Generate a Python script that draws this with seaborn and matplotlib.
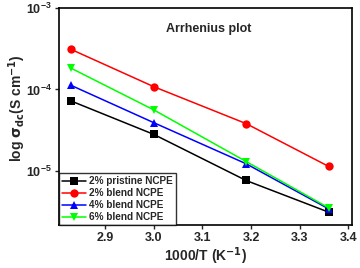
import pandas as pd
import matplotlib
matplotlib.use("Agg")
import matplotlib.pyplot as plt
import seaborn as sns

# Data
inv_T = [2.83, 3.00, 3.19, 3.36]
pristine_2 = [7.2e-5, 2.8e-5, 7.6e-6, 3.1e-6]
blend_2 = [3.1e-4, 1.08e-4, 3.8e-5, 1.13e-5]
blend_4 = [1.12e-4, 3.9e-5, 1.22e-5, 3.4e-6]
blend_6 = [1.82e-4, 5.6e-5, 1.3e-5, 3.5e-6]

labels = ["2% pristine NCPE", "2% blend NCPE", "4% blend NCPE", "6% blend NCPE"]
colors = ["black", "red", "blue", "#00ff00"]
markers = ["s", "o", "^", "v"]

df = pd.DataFrame({
    "x": inv_T * 4,
    "y": pristine_2 + blend_2 + blend_4 + blend_6,
    "sample": [l for l in labels for _ in inv_T],
})

sns.set_style("ticks")
plt.rcParams["font.family"] = ["Liberation Sans", "DejaVu Sans"]
plt.rcParams["font.weight"] = "bold"
plt.rcParams["mathtext.default"] = "bf"

fig = plt.figure(figsize=(3.6, 2.68), dpi=100)
ax = fig.add_axes([0.164, 0.160, 0.814, 0.810])

sns.lineplot(data=df, x="x", y="y", hue="sample", style="sample",
             palette=dict(zip(labels, colors)), markers=dict(zip(labels, markers)),
             dashes=False, markersize=6, markeredgewidth=0, linewidth=1.1, ax=ax)

ax.set_yscale("log")
ax.set_ylim(2.15e-6, 1e-3)
ax.set_xlim(2.805, 3.408)
ax.set_xticks([2.9, 3.0, 3.1, 3.2, 3.3, 3.4])
ax.set_yticks([1e-5, 1e-4, 1e-3])
ax.yaxis.set_minor_locator(matplotlib.ticker.NullLocator())

for s in ax.spines.values():
    s.set_visible(True)
    s.set_linewidth(1.2)
    s.set_color("black")
ax.tick_params(labelsize=9, width=1, length=3, direction="out", pad=2)
for t in ax.get_xticklabels() + ax.get_yticklabels():
    t.set_fontweight("bold")

ax.set_xlabel("1000/T (K$^{-1}$)", fontsize=10, fontweight="bold", labelpad=1)
ax.set_ylabel(r"log $\mathbf{\sigma_{dc}}$(S cm$^{\mathbf{-1}}$)", fontsize=10, fontweight="bold")
ax.yaxis.set_label_coords(-0.106, 0.54)
ax.text(0.365, 0.905, "Arrhenius plot", transform=ax.transAxes, fontsize=9,
        fontweight="bold", ha="left", va="center")

leg = ax.legend(loc="lower left", fontsize=7.2, frameon=True, fancybox=False,
                edgecolor="black", borderaxespad=0, handlelength=2.4,
                handletextpad=0.3, labelspacing=0.2, borderpad=0.3)
leg.get_frame().set_linewidth(1)
for t in leg.get_texts():
    t.set_fontweight("bold")

fig.savefig("out.png", dpi=100)
